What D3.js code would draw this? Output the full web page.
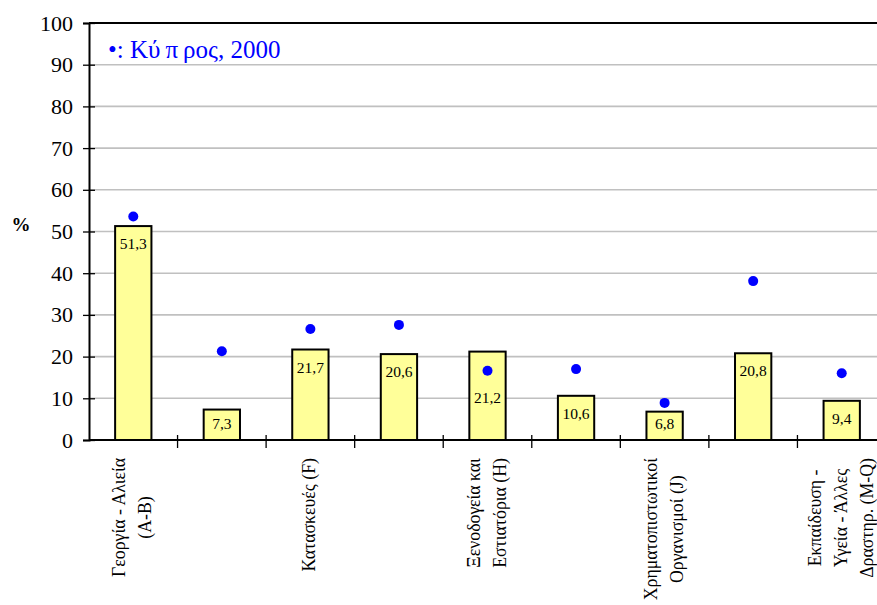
<!DOCTYPE html>
<html>
<head>
<meta charset="utf-8">
<script src="https://cdn.jsdelivr.net/npm/d3@7"></script>
<style>
  html, body { margin: 0; padding: 0; background: #fff; }
  svg { display: block; }
  text { font-family: "Liberation Serif", "Times New Roman", serif; }
</style>
</head>
<body>
<svg id="chart" width="877" height="605"></svg>
<script>
// ---- data ----
const categories = [
  "Γεοργία - Αλιεία\n(A-B)",
  "Μεταποίηση (C-E)",
  "Κατασκευές (F)",
  "Εμπόριο (G)",
  "Ξενοδογεία και\nΕστιατόρια (H)",
  "Μεταφορές (I)",
  "Χρηματοπιστωτικοί\nΟργανισμοί (J)",
  "Ακίνητα (K-L)",
  "Εκπαίδευση -\nΥγεία - Άλλες\nΔραστηρ. (M-Q)"
];
const barValues = [51.3, 7.3, 21.7, 20.6, 21.2, 10.6, 6.8, 20.8, 9.4];
const barLabels = ["51,3", "7,3", "21,7", "20,6", "21,2", "10,6", "6,8", "20,8", "9,4"];
const cyprusValues = [53.6, 21.3, 26.6, 27.6, 16.6, 17.0, 8.9, 38.1, 16.0];
const yTicks = [0, 10, 20, 30, 40, 50, 60, 70, 80, 90, 100];
const legendParts = ["•: Κύ", "π", "ρος, 2000"];
const yTitle = "%";

// ---- layout ----
const svg = d3.select("#chart");
const mLeft = 89, mRight = 886, mTop = 23, mBottom = 440;

const x = d3.scaleBand().domain(d3.range(categories.length)).range([mLeft, mRight]).padding(0);
const y = d3.scaleLinear().domain([0, 100]).range([mBottom, mTop]);
const barW = x.bandwidth() * 0.41;

// gridlines
svg.append("g").selectAll("line")
  .data(yTicks.filter(t => t > 0 && t < 100))
  .join("line")
  .attr("x1", mLeft).attr("x2", mRight)
  .attr("y1", d => y(d)).attr("y2", d => y(d))
  .attr("stroke", "#c0c0c0").attr("stroke-width", 1.6);

// top border
svg.append("line")
  .attr("x1", mLeft).attr("x2", mRight)
  .attr("y1", y(100)).attr("y2", y(100))
  .attr("stroke", "#000").attr("stroke-width", 2);

// y axis
const yAxis = d3.axisLeft(y).tickValues(yTicks).tickSize(6).tickPadding(10).tickFormat(d3.format("d"));
const gy = svg.append("g").attr("transform", `translate(${mLeft},0)`).call(yAxis);
gy.select(".domain").attr("stroke", "#000").attr("stroke-width", 2);
gy.selectAll(".tick line").attr("x1", -6).attr("x2", 6).attr("stroke", "#000").attr("stroke-width", 1.3);
gy.selectAll(".tick text")
  .attr("font-family", "Liberation Serif, serif")
  .attr("font-size", 22).attr("fill", "#000");

// y title
svg.append("text").text(yTitle)
  .attr("x", 21).attr("y", 231)
  .attr("text-anchor", "middle")
  .attr("font-size", 19).attr("font-weight", "bold");

// bars
svg.append("g").selectAll("rect")
  .data(barValues)
  .join("rect")
  .attr("x", (d, i) => x(i) + (x.bandwidth() - barW) / 2)
  .attr("y", d => y(d))
  .attr("width", barW)
  .attr("height", d => y(0) - y(d))
  .attr("fill", "#FFFF99")
  .attr("stroke", "#000").attr("stroke-width", 2);

// x axis
svg.append("line")
  .attr("x1", mLeft).attr("x2", mRight)
  .attr("y1", y(0)).attr("y2", y(0))
  .attr("stroke", "#000").attr("stroke-width", 2);
svg.append("g").selectAll("line")
  .data(d3.range(1, categories.length))
  .join("line")
  .attr("x1", i => x(i)).attr("x2", i => x(i))
  .attr("y1", y(0) - 5).attr("y2", y(0) + 8)
  .attr("stroke", "#000").attr("stroke-width", 1.3);

// bar labels
svg.append("g").selectAll("text")
  .data(barValues)
  .join("text")
  .text((d, i) => barLabels[i])
  .attr("x", (d, i) => x(i) + x.bandwidth() / 2)
  .attr("y", (d, i) => {
    let yy = Math.min(y(d) + 23, y(0) - 11);
    const dy = y(cyprusValues[i]);
    if (dy > y(d) && dy < y(0)) yy = Math.max(yy, dy + 32);
    return yy;
  })
  .attr("text-anchor", "middle")
  .attr("font-size", 15.5).attr("fill", "#000");

// Cyprus dots
svg.append("g").selectAll("circle")
  .data(cyprusValues)
  .join("circle")
  .attr("cx", (d, i) => x(i) + x.bandwidth() / 2)
  .attr("cy", d => y(d))
  .attr("r", 5)
  .attr("fill", "#0000FF");

// x labels (every other category)
const lineGap = 26;
const labelTop = 458;
categories.forEach((c, i) => {
  if (i % 2 !== 0) return;
  const lines = c.split("\n");
  const g = svg.append("g");
  const texts = lines.map((ln, k) => g.append("text")
    .text(ln)
    .attr("font-size", 17.8)
    .attr("text-anchor", "middle")
    .attr("dominant-baseline", "central")
    .attr("y", (k - (lines.length - 1) / 2) * lineGap));
  const maxLen = d3.max(texts, t => t.node().getComputedTextLength());
  texts.forEach(t => t.attr("x", -maxLen / 2));
  g.attr("transform", `translate(${x(i) + x.bandwidth() / 2 - 1},${labelTop}) rotate(-90)`);
});

// legend
const leg = svg.append("text")
  .attr("x", 108).attr("y", 58)
  .attr("font-size", 25).attr("fill", "#0000FF");
legendParts.forEach((p, k) => leg.append("tspan").text(p).attr("dx", k === 0 ? 0 : 5));
</script>
</body>
</html>
